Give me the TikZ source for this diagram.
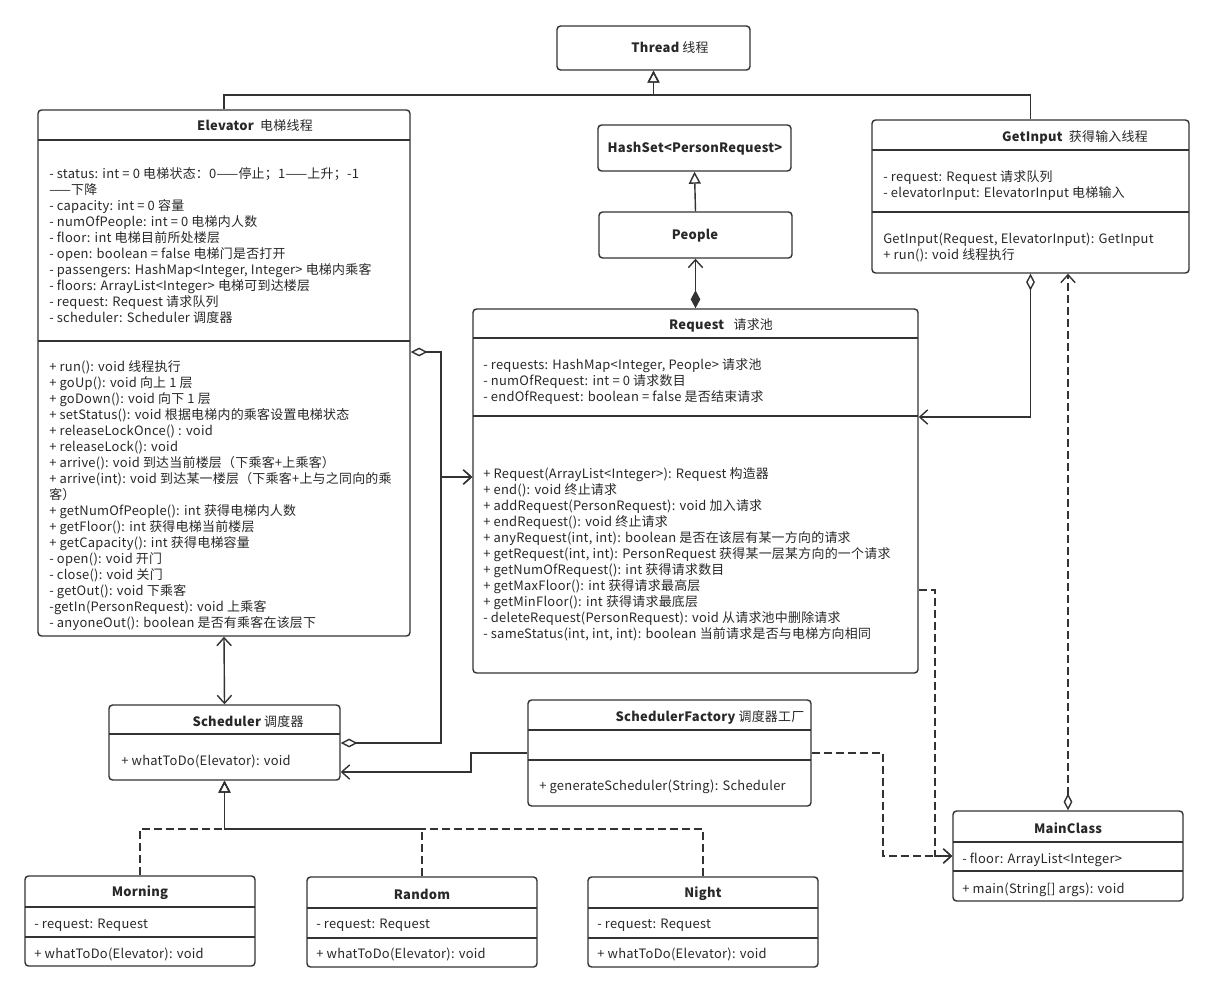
\documentclass[tikz,border=0pt]{standalone}
\usepackage{fontspec}
\setmainfont{Noto Sans CJK SC}[LetterSpace=2]
\usepackage{xcolor}
\definecolor{umlline}{RGB}{51,51,51}
\definecolor{umltext}{RGB}{40,40,40}
\usepackage{tikz}
\usetikzlibrary{arrows.meta,fit}

\begin{document}
\begin{tikzpicture}[
  x=0.025cm, y=-0.025cm,
  cls/.style={draw=umlline,fill=white,rounded corners=2.5pt,line width=1pt,inner sep=0pt},
  ttl/.style={inner sep=0pt,text=umltext,font=\fontsize{9.2}{11.38}\selectfont},
  txt/.style={anchor=north west,align=left,inner sep=0pt,text=umltext,
    font=\fontsize{9.2}{11.38}\selectfont},
  sep/.style={draw=umlline,line width=1pt},
  conn/.style={draw=umlline,line width=1pt},
  dashline/.style={conn,dash pattern=on 2mm off 1mm},
  gen/.style={conn,-{Triangle[open,length=3mm,width=3mm]}},
  real/.style={dashline,-{Triangle[open,length=3mm,width=3mm]}},
  assoc/.style={conn,-{Straight Barb[length=2mm,width=3.6mm]}},
  assoc2/.style={conn,{Straight Barb[length=2mm,width=3.6mm]}-{Straight Barb[length=2mm,width=3.6mm]}},
  agg/.style={conn,{Diamond[open,length=4.2mm,width=2.2mm]}-{Straight Barb[length=2mm,width=3.6mm]}},
  comp/.style={conn,{Diamond[length=4.5mm,width=2.4mm]}-{Straight Barb[length=2mm,width=3.6mm]}},
  dep/.style={dashline,-{Straight Barb[length=2mm,width=3.6mm]}},
  depagg/.style={dashline,{Diamond[open,length=4.2mm,width=2.2mm]}-{Straight Barb[length=2mm,width=3.6mm]}}]
  \useasboundingbox (0,0) rectangle (1214,992);

  % class boxes
  \node[cls,fit={(557,26) (750,70)}] (thread) {};
  \node[cls,fit={(38,110) (410,636)}] (elev) {};
  \node[cls,fit={(598,125) (791,171)}] (hashset) {};
  \node[cls,fit={(599,212) (792,258)}] (people) {};
  \node[cls,fit={(473,309) (918,673)}] (request) {};
  \node[cls,fit={(872,120) (1189,273)}] (getin) {};
  \node[cls,fit={(109,705) (340,780)}] (sched) {};
  \node[cls,fit={(528,700) (811,806)}] (factory) {};
  \node[cls,fit={(25,876) (255,966)}] (morning) {};
  \node[cls,fit={(307,877) (537,967)}] (random) {};
  \node[cls,fit={(588,877) (818,967)}] (night) {};
  \node[cls,fit={(953,811) (1183,901)}] (main) {};

  % compartments
  \draw[sep] (38,140)--(410,140) (38,341)--(410,341);
  \draw[sep] (473,338)--(918,338) (473,416)--(918,416);
  \draw[sep] (872,150)--(1189,150) (872,212)--(1189,212);
  \draw[sep] (109,734)--(340,734);
  \draw[sep] (528,730)--(811,730) (528,760)--(811,760);
  \draw[sep] (25,907)--(255,907) (25,937)--(255,937);
  \draw[sep] (307,908)--(537,908) (307,938)--(537,938);
  \draw[sep] (588,908)--(818,908) (588,938)--(818,938);
  \draw[sep] (953,842)--(1183,842) (953,871)--(1183,871);

  % titles
  \node[ttl] (thread-t) at (670,48) {{\bfseries Thread}~线程};
  \node[ttl] (elev-t) at (255,126) {{\bfseries Elevator}~~电梯线程};
  \node[ttl] (hashset-t) at (695,149) {\bfseries HashSet<PersonRequest>};
  \node[ttl] (people-t) at (695,236) {\bfseries People};
  \node[ttl] (request-t) at (721,325) {{\bfseries Request}~~~请求池};
  \node[ttl] (getin-t) at (1075,137) {{\bfseries GetInput}~~获得输入线程};
  \node[ttl] (sched-t) at (248,722) {{\bfseries Scheduler}~调度器};
  \node[ttl] (factory-t) at (710,717) {{\bfseries SchedulerFactory}~调度器工厂};
  \node[ttl] (morning-t) at (140,893) {\bfseries Morning};
  \node[ttl] (random-t) at (422,894) {\bfseries Random};
  \node[ttl] (night-t) at (703,894) {\bfseries Night};
  \node[ttl] (main-t) at (1068,828) {\bfseries MainClass};

  % members
  \node[txt] (elev-a) at (49,167) {\strut- status: int = 0 电梯状态：0——停止；1——上升；-1\\
    ——下降\\
    - capacity: int = 0 容量\\
    - numOfPeople: int = 0 电梯内人数\\
    - floor: int 电梯目前所处楼层\\
    - open: boolean = false 电梯门是否打开\\
    - passengers: HashMap<Integer, Integer> 电梯内乘客\\
    - floors: ArrayList<Integer> 电梯可到达楼层\\
    - request: Request 请求队列\\
    - scheduler: Scheduler 调度器};
  \node[txt] (elev-m) at (49,360) {\strut+ run(): void 线程执行\\
    + goUp(): void 向上 1 层\\
    + goDown(): void 向下 1 层\\
    + setStatus(): void 根据电梯内的乘客设置电梯状态\\
    + releaseLockOnce() : void\\
    + releaseLock(): void\\
    + arrive(): void 到达当前楼层（下乘客+上乘客）\\
    + arrive(int): void 到达某一楼层（下乘客+上与之同向的乘\\
    客）\\
    + getNumOfPeople(): int 获得电梯内人数\\
    + getFloor(): int 获得电梯当前楼层\\
    + getCapacity(): int 获得电梯容量\\
    - open(): void 开门\\
    - close(): void 关门\\
    - getOut(): void 下乘客\\
    -getIn(PersonRequest): void 上乘客\\
    - anyoneOut(): boolean 是否有乘客在该层下};
  \node[txt] (request-a) at (483,358) {\strut- requests: HashMap<Integer, People> 请求池\\
    - numOfRequest: int = 0 请求数目\\
    - endOfRequest: boolean = false 是否结束请求};
  \node[txt] (request-m) at (483,467) {\strut+ Request(ArrayList<Integer>): Request 构造器\\
    + end(): void 终止请求\\
    + addRequest(PersonRequest): void 加入请求\\
    + endRequest(): void 终止请求\\
    + anyRequest(int, int): boolean 是否在该层有某一方向的请求\\
    + getRequest(int, int): PersonRequest 获得某一层某方向的一个请求\\
    + getNumOfRequest(): int 获得请求数目\\
    + getMaxFloor(): int 获得请求最高层\\
    + getMinFloor(): int 获得请求最底层\\
    - deleteRequest(PersonRequest): void 从请求池中删除请求\\
    - sameStatus(int, int, int): boolean 当前请求是否与电梯方向相同};
  \node[txt] (getin-a) at (883,170) {\strut- request: Request 请求队列\\
    - elevatorInput: ElevatorInput 电梯输入};
  \node[txt] (getin-m) at (883,232) {\strut GetInput(Request, ElevatorInput): GetInput\\
    + run(): void 线程执行};
  \node[txt] (sched-m) at (121,754) {\strut+ whatToDo(Elevator): void};
  \node[txt] (factory-m) at (539,779) {\strut+ generateScheduler(String): Scheduler};
  \node[txt] (morning-a) at (34,917) {\strut- request: Request};
  \node[txt] (morning-m) at (34,947) {\strut+ whatToDo(Elevator): void};
  \node[txt] (random-a) at (316,917) {\strut- request: Request};
  \node[txt] (random-m) at (316,947) {\strut+ whatToDo(Elevator): void};
  \node[txt] (night-a) at (597,917) {\strut- request: Request};
  \node[txt] (night-m) at (597,947) {\strut+ whatToDo(Elevator): void};
  \node[txt] (main-a) at (962,852) {\strut- floor: ArrayList<Integer>};
  \node[txt] (main-m) at (962,882) {\strut+ main(String[] args): void};

  % bend points
  \coordinate (thr) at (0,95);
  \coordinate (eagg) at (0,352);
  \coordinate (sagg) at (0,743);
  \coordinate (reqin) at (0,477);
  \coordinate (bus) at (441,0);
  \coordinate (fturn) at (471,0);
  \coordinate (schin) at (0,772);
  \coordinate (fdep) at (883,0);
  \coordinate (rout) at (0,590);
  \coordinate (rdep) at (935,0);
  \coordinate (gin) at (0,417);
  \coordinate (realy) at (0,829);

  % connectors
  \draw[gen] (elev.north) |- (thread.south |- thr) -- (thread.south);
  \draw[gen] (getin.north) |- (thread.south |- thr) -- (thread.south);
  \draw[gen] (people.north) -- (hashset.south);
  \draw[comp] (request.north) -- (people.south);
  \draw[assoc2] (elev.south) -- (sched.north);
  \draw[agg] (elev.east |- eagg) -| (bus |- reqin) -- (request.west |- reqin);
  \draw[agg] (sched.east |- sagg) -| (bus |- reqin) -- (request.west |- reqin);
  \draw[assoc] (factory.west) -| (fturn |- schin) -- (sched.east |- schin);
  \draw[agg] (getin.south) |- (request.east |- gin);
  \draw[dep] (factory.east) -| (fdep |- main.west) -- (main.west);
  \draw[dep] (request.east |- rout) -| (rdep |- main.west) -- (main.west);
  \draw[depagg] (main.north) -- (main.north |- getin.south);
  \draw[real] (morning.north) |- (sched.south |- realy) -- (sched.south);
  \draw[real] (random.north) |- (sched.south |- realy) -- (sched.south);
  \draw[real] (night.north) |- (sched.south |- realy) -- (sched.south);
\end{tikzpicture}
\end{document}
